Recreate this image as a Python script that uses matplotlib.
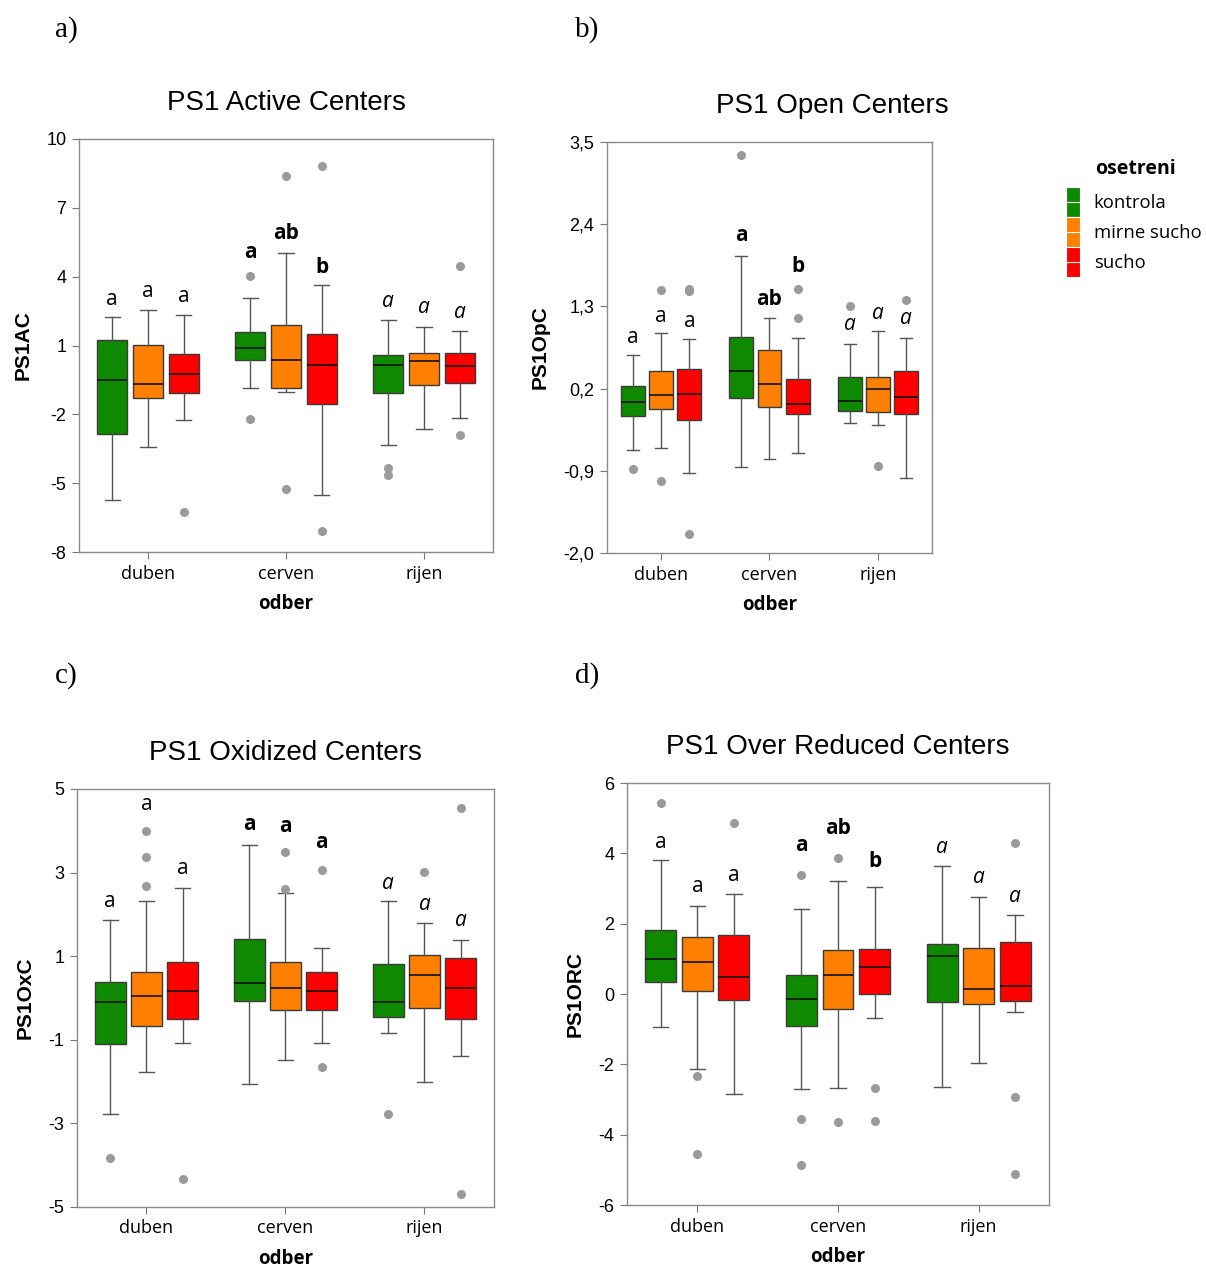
import numpy as np
import matplotlib
matplotlib.use("Agg")
import matplotlib.pyplot as plt
from matplotlib.patches import Patch, Rectangle
from matplotlib.legend_handler import HandlerBase

plt.rcParams["font.family"] = ["Liberation Sans", "DejaVu Sans"]

################################################################
############################ Data ##############################
################################################################

months = ["duben", "cerven", "rijen"]
treatments = ["kontrola", "mirne sucho", "sucho"]
colors = ["#0f8a00", "#ff8000", "#ff0000"]

# order of boxes: duben (k, m, s), cerven (k, m, s), rijen (k, m, s)
AC_lo = [-5.72, -3.43, -2.24, -0.86, -1.02, -5.50, -3.35, -2.64, -2.16]
AC_q1 = [-2.84, -1.29, -1.09, 0.36, -0.86, -1.54, -1.06, -0.73, -0.65]
AC_med = [-0.51, -0.67, -0.23, 0.90, 0.38, 0.17, 0.15, 0.32, 0.10]
AC_q3 = [1.25, 1.03, 0.64, 1.61, 1.89, 1.49, 0.60, 0.67, 0.67]
AC_hi = [2.26, 2.55, 2.32, 3.08, 5.04, 3.64, 2.12, 1.80, 1.65]
AC_out = [[], [], [-6.26], [4.02, -2.21], [8.40, -5.27], [8.82, -7.10],
          [-4.33, -4.65], [], [4.48, -2.90]]
AC_let = ["a", "a", "a", "a", "ab", "b", "a", "a", "a"]
AC_let_y = [3.0, 3.37, 3.15, 5.04, 5.86, 4.38, 2.93, 2.67, 2.45]

OpC_lo = [-0.62, -0.60, -0.93, -0.85, -0.74, -0.66, -0.26, -0.29, -1.00]
OpC_q1 = [-0.16, -0.07, -0.22, 0.08, -0.05, -0.14, -0.10, -0.11, -0.14]
OpC_med = [0.02, 0.12, 0.13, 0.43, 0.26, 0.00, 0.03, 0.19, 0.09]
OpC_q3 = [0.24, 0.43, 0.46, 0.89, 0.72, 0.33, 0.35, 0.36, 0.44]
OpC_hi = [0.65, 0.95, 0.86, 1.98, 1.14, 0.88, 0.80, 0.97, 0.88]
OpC_out = [[-0.88], [1.52, -1.04], [1.54, 1.50, -1.75], [3.33], [],
           [1.53, 1.14], [1.31], [-0.83], [1.38]]
OpC_let = ["a", "a", "a", "a", "ab", "b", "a", "a", "a"]
OpC_let_y = [0.89, 1.17, 1.10, 2.25, 1.39, 1.83, 1.06, 1.21, 1.14]

OxC_lo = [-2.78, -1.77, -1.07, -2.05, -1.48, -1.07, -0.85, -2.01, -1.39]
OxC_q1 = [-1.09, -0.67, -0.50, -0.07, -0.29, -0.29, -0.46, -0.25, -0.50]
OxC_med = [-0.10, 0.05, 0.17, 0.35, 0.23, 0.17, -0.10, 0.55, 0.23]
OxC_q3 = [0.38, 0.63, 0.85, 1.42, 0.87, 0.63, 0.81, 1.03, 0.96]
OxC_hi = [1.87, 2.31, 2.63, 3.66, 2.50, 1.20, 2.31, 1.79, 1.39]
OxC_out = [[-3.83], [3.99, 3.37, 2.67], [-4.33], [], [3.49, 2.61],
           [3.05, -1.66], [-2.77], [3.01], [4.55, -4.69]]
OxC_let = ["a", "a", "a", "a", "a", "a", "a", "a", "a"]
OxC_let_y = [2.31, 4.63, 3.09, 4.16, 4.11, 3.72, 2.75, 2.23, 1.86]

ORC_lo = [-0.93, -2.13, -2.85, -2.71, -2.67, -0.68, -2.65, -1.97, -0.51]
ORC_q1 = [0.34, 0.08, -0.17, -0.92, -0.43, -0.01, -0.23, -0.29, -0.19]
ORC_med = [1.00, 0.92, 0.48, -0.15, 0.55, 0.76, 1.08, 0.14, 0.23]
ORC_q3 = [1.81, 1.63, 1.67, 0.55, 1.24, 1.27, 1.41, 1.32, 1.47]
ORC_hi = [3.80, 2.51, 2.85, 2.41, 3.21, 3.05, 3.64, 2.77, 2.25]
ORC_out = [[5.43], [-2.33, -4.54], [4.86], [3.38, -3.56, -4.85],
           [3.87, -3.65], [-2.68, -3.60], [], [], [4.30, -2.92, -5.13]]
ORC_let = ["a", "a", "a", "a", "ab", "b", "a", "a", "a"]
ORC_let_y = [4.31, 3.06, 3.38, 4.22, 4.70, 3.77, 4.18, 3.32, 2.77]

################################################################
######################### Functions ############################
################################################################

class TwoSquares(HandlerBase):
    # legend key drawn as two stacked squares
    def create_artists(self, legend, orig_handle, xdescent, ydescent,
                       width, height, fontsize, trans):
        c = orig_handle.get_facecolor()
        r1 = Rectangle((-xdescent, -ydescent), width, height / 2, fc=c,
                       ec="white", lw=0.8, transform=trans)
        r2 = Rectangle((-xdescent, -ydescent + height / 2), width, height / 2,
                       fc=c, ec="white", lw=0.8, transform=trans)
        return [r1, r2]


def Panel(rect, title, title_x, ylabel, lo, q1, med, q3, hi, out, let, let_y,
          yticks, yticklabels):
    ax = fig.add_axes(rect)
    offs = [-0.26, 0.0, 0.26]
    stats = []
    pos = []
    for i in range(9):
        g, t = divmod(i, 3)
        stats.append(dict(whislo=lo[i], q1=q1[i], med=med[i], q3=q3[i],
                          whishi=hi[i], fliers=out[i]))
        pos.append(g + 1 + offs[t])
    bp = ax.bxp(stats, positions=pos, widths=0.22, capwidths=0.11,
                patch_artist=True, showfliers=True,
                boxprops=dict(edgecolor="#3a3a3a", linewidth=1.0),
                medianprops=dict(color="#111111", linewidth=1.2),
                whiskerprops=dict(color="#555555", linewidth=1.0),
                capprops=dict(color="#555555", linewidth=1.0),
                flierprops=dict(marker="o", markerfacecolor="#9a9a9a",
                                markeredgecolor="none", markersize=6.5))
    for i, b in enumerate(bp["boxes"]):
        b.set_facecolor(colors[i % 3])
    styles = [("normal", "normal"), ("normal", "bold"), ("italic", "normal")]
    for i in range(9):
        st, wt = styles[i // 3]
        ax.text(pos[i], let_y[i], let[i], ha="center", va="center",
                fontsize=15, fontstyle=st, fontweight=wt,
                family=["Open Sans", "DejaVu Sans"])
    ax.set_xlim(0.5, 3.5)
    ax.set_ylim(yticks[-1], yticks[0])
    ax.set_yticks(yticks)
    ax.set_yticklabels(yticklabels, fontsize=13)
    ax.set_xticks([1, 2, 3])
    ax.set_xticklabels(months, fontsize=13,
                       family=["Open Sans", "DejaVu Sans"])
    ax.tick_params(direction="out", length=5, color="#777777", pad=4)
    ax.tick_params(axis="x", pad=4)
    for s in ax.spines.values():
        s.set_color("#8a8a8a")
        s.set_linewidth(1.0)
    ax.set_xlabel("odber", fontsize=13.5, fontweight="bold",
                  family=["Open Sans", "DejaVu Sans"], labelpad=8)
    ax.set_ylabel(ylabel, fontsize=15, fontweight="bold", labelpad=10)
    ax.set_title(title, fontsize=20, pad=21, x=title_x)
    return ax


fig = plt.figure(figsize=(12.06, 12.67), dpi=100)

Panel([0.0655, 0.5643, 0.3433, 0.3260], "PS1 Active Centers", 0.5, "PS1AC",
      AC_lo, AC_q1, AC_med, AC_q3, AC_hi, AC_out, AC_let, AC_let_y,
      [10, 7, 4, 1, -2, -5, -8], ["10", "7", "4", "1", "-2", "-5", "-8"])
Panel([0.5033, 0.5635, 0.2695, 0.3244], "PS1 Open Centers", 0.692, "PS1OpC",
      OpC_lo, OpC_q1, OpC_med, OpC_q3, OpC_hi, OpC_out, OpC_let, OpC_let_y,
      [3.5, 2.4, 1.3, 0.2, -0.9, -2.0],
      ["3,5", "2,4", "1,3", "0,2", "-0,9", "-2,0"])
Panel([0.0638, 0.0474, 0.3458, 0.3299], "PS1 Oxidized Centers", 0.5, "PS1OxC",
      OxC_lo, OxC_q1, OxC_med, OxC_q3, OxC_hi, OxC_out, OxC_let, OxC_let_y,
      [5, 3, 1, -1, -3, -5], ["5", "3", "1", "-1", "-3", "-5"])
Panel([0.5199, 0.0489, 0.3499, 0.3331], "PS1 Over Reduced Centers", 0.5,
      "PS1ORC", ORC_lo, ORC_q1, ORC_med, ORC_q3, ORC_hi, ORC_out, ORC_let,
      ORC_let_y, [6, 4, 2, 0, -2, -4, -6],
      ["6", "4", "2", "0", "-2", "-4", "-6"])

for lab, x, y in [("a)", 55, 30), ("b)", 575, 30), ("c)", 55, 676), ("d)", 575, 676)]:
    fig.text(x / 1206, 1 - y / 1267, lab, fontsize=21, va="center", ha="left",
             family=["Liberation Serif", "DejaVu Serif"])

# legend: title placed on its own, keys stacked with no gap
fig.text(1135 / 1206, 1 - 169 / 1267, "osetreni", ha="center", va="center",
         fontsize=14, fontweight="bold", family=["Open Sans", "DejaVu Sans"])
handles = [Patch(facecolor=c) for c in colors]
fig.legend(handles, treatments, loc="upper left",
           bbox_to_anchor=(1066 / 1206, 1 - 187 / 1267), frameon=False,
           handlelength=0.75, handleheight=2.12,
           labelspacing=0.0, handletextpad=0.75, borderaxespad=0,
           borderpad=0,
           prop=dict(family=["Open Sans", "DejaVu Sans"], size=13.3),
           handler_map={Patch: TwoSquares()})

plt.savefig("out.png", dpi=100)
